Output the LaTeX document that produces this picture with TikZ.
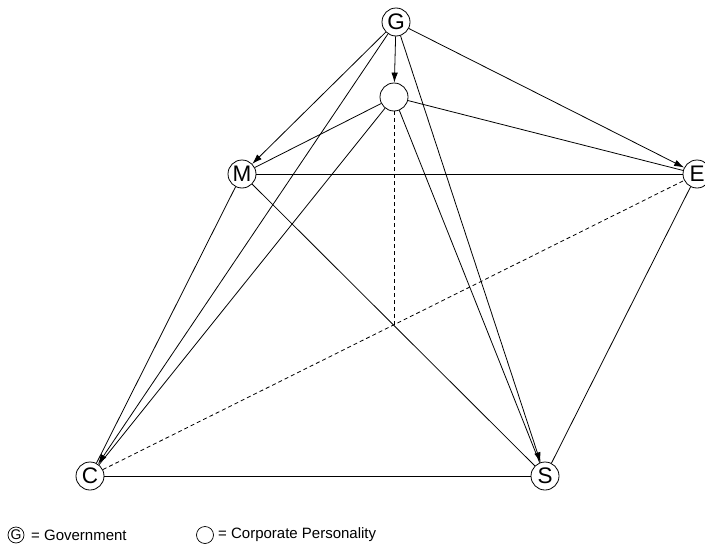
\documentclass[tikz,border=0pt]{standalone}
\usepackage{fontspec}
\setmainfont{Liberation Sans}
\usetikzlibrary{arrows.meta}
\begin{document}
\begin{tikzpicture}[x=1pt,y=-1pt,
  actor/.style={circle,draw,line width=0.8pt,minimum size=28pt,inner sep=0pt,
    font=\fontsize{22.5}{22.5}\selectfont},
  link/.style={line width=0.8pt},
  rule/.style={link,-{Latex[length=10pt,width=6.5pt]}},
  hidden/.style={link,dash pattern=on 4pt off 3pt},
  key/.style={circle,draw,line width=0.7pt,inner sep=0pt},
  keytext/.style={anchor=west,inner sep=0pt,font=\fontsize{15}{15}\selectfont}]
\useasboundingbox (0,0) rectangle (705,549);

% parties
\node[actor] (G) at (396,22) {G};
\node[actor] (P) at (394,97) {};
\node[actor] (M) at (242,174) {M};
\node[actor] (E) at (697,174) {E};
\node[actor] (C) at (90,476) {C};
\node[actor] (S) at (545,476) {S};
\coordinate (X) at (394,325);

% government influence
\draw[rule] (G) -- (P);
\draw[rule] (G) -- (M);
\draw[rule] (G) -- (C);
\draw[rule] (G) -- (E);
\draw[rule] (G) -- (S);

% corporate personality links
\draw[link] (P) -- (M);
\draw[link] (P) -- (C);
\draw[link] (P) -- (E);
\draw[link] (P) -- (S);
\draw[hidden] (P) -- (X);

% outer links
\draw[link] (M) -- (E);
\draw[link] (M) -- (C);
\draw[link] (M) -- (S);
\draw[link] (E) -- (S);
\draw[link] (C) -- (S);
\draw[hidden] (C) -- (E);

% key
\node[key,minimum size=16pt,font=\fontsize{14}{14}\selectfont] (kg) at (16,535) {G};
\node[keytext] (kgt) at (31,535) {= Government};
\node[key,minimum size=17pt] (kp) at (205,535) {};
\node[keytext] (kpt) at (218,535) {= Corporate Personality};
\end{tikzpicture}
\end{document}
